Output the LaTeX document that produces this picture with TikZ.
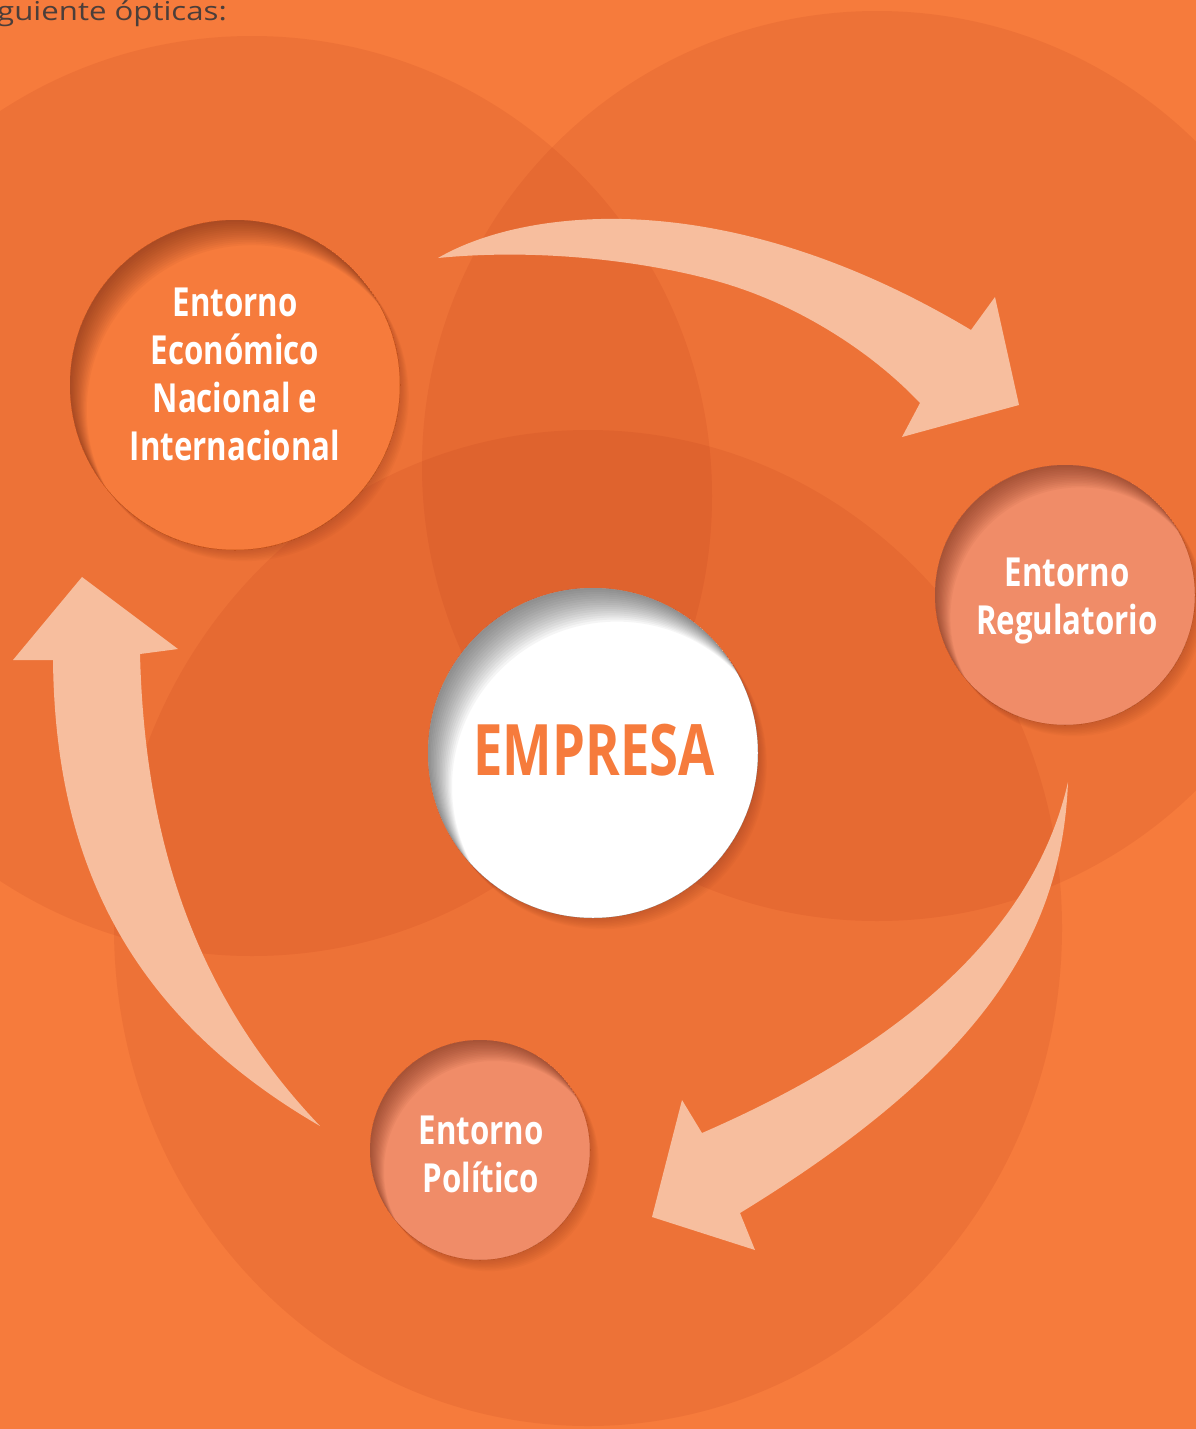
\documentclass[tikz,border=0pt]{standalone}
\usepackage{fontspec}
\setmainfont{Open Sans}
\newfontfamily\condfont{Open Sans}[FakeStretch=0.78]
\newfontfamily\empfont{Open Sans}[FakeStretch=0.74]
\newfontfamily\introfont{Open Sans}[FakeStretch=1.2]
\usetikzlibrary{calc}
\definecolor{bgorange}{RGB}{246,123,60}
\definecolor{bigshade}{RGB}{180,50,20}
\definecolor{arrowpeach}{RGB}{247,190,158}
\definecolor{softorange}{RGB}{240,140,104}
\definecolor{rimbrown}{RGB}{110,40,20}
\definecolor{rimgray}{RGB}{70,70,70}
\definecolor{topgray}{RGB}{75,62,58}
\newcommand\innershade[6]{%
  \begin{scope}
    \clip (#1) circle (#2);
    \foreach \k in {1,...,#6}{%
      \fill[#3, fill opacity=0.05, even odd rule] (#1) circle (#2) ($(#1)+(\k*#4,\k*#5)$) circle (#2);
    }
  \end{scope}}
\newcommand\outershade[3]{%
  \foreach \k in {1,...,8}{%
    \fill[#3, fill opacity=0.035] ($(#1)+(\k*1.1,\k*1.4)$) circle (#2);
  }}
\tikzset{
  bigdisc/.style={fill=bigshade, fill opacity=0.12},
  blockarrow/.style={fill=arrowpeach},
  envtext/.style={text=white, align=center, inner sep=0pt,
    font=\condfont\bfseries\fontsize{40}{48}\selectfont},
  holder/.style={circle, inner sep=0pt}
}
\begin{document}
\begin{tikzpicture}[x=1pt, y=-1pt]
\useasboundingbox (0,0) rectangle (1196,1429);
\clip (0,0) rectangle (1196,1429);
\fill[bgorange] (0,0) rectangle (1196,1429);

% big overlapping discs
\fill[bigdisc] (252,496) circle (460pt);
\fill[bigdisc] (877,466) circle (455pt);
\fill[bigdisc] (588,928) ellipse [x radius=474pt, y radius=498pt];

% intro text
\node[anchor=base west, inner sep=0pt, text=topgray, font=\introfont\fontsize{26}{30}\selectfont] (intro) at (-3,21) {guiente ópticas:};

% block arrows
\fill[blockarrow] (438,258) .. controls (520,210) and (720,180) .. (971,330)
  -- (995,297) -- (1019,405) -- (902,437) -- (920,403)
  .. controls (870,350) and (800,308) .. (736,287)
  .. controls (680,268) and (560,246) .. (438,258) -- cycle;
\fill[blockarrow] (1068,782) .. controls (1062,930) and (990,1060) .. (740,1213)
  -- (755,1250) -- (652,1217) -- (682,1100) -- (702,1133)
  .. controls (870,1060) and (1030,950) .. (1068,782) -- cycle;
\fill[blockarrow] (82,577) -- (178,649) -- (140,654)
  .. controls (145,850) and (200,1000) .. (320,1126)
  .. controls (120,1010) and (55,850) .. (53,660)
  -- (13,660) -- cycle;

% circle holders
\node[holder, minimum size=330pt] (econ) at (235,385) {};
\node[holder, minimum size=260pt] (regu) at (1065,595) {};
\node[holder, minimum size=220pt] (poli) at (480,1150) {};
\node[holder, minimum size=330pt] (emp) at (593,753) {};

% economic circle
\outershade{econ.center}{165pt}{rimbrown}
\fill[bgorange] (econ.center) circle (165pt);
\innershade{econ.center}{165pt}{rimbrown}{1.2}{1.8}{14}
% regulatory circle
\outershade{regu.center}{130pt}{rimbrown}
\fill[softorange] (regu.center) circle (130pt);
\innershade{regu.center}{130pt}{rimbrown}{1.1}{1.6}{14}
% political circle
\outershade{poli.center}{110pt}{rimbrown}
\fill[softorange] (poli.center) circle (110pt);
\innershade{poli.center}{110pt}{rimbrown}{1.0}{1.5}{14}
% empresa circle
\outershade{emp.center}{165pt}{rimbrown}
\fill[white] (emp.center) circle (165pt);
\innershade{emp.center}{165pt}{rimgray}{1.5}{2.1}{16}

% labels
\node[envtext] (econtxt) at (235,374) {Entorno\\Económico\\Nacional e\\Internacional};
\node[envtext] (regutxt) at (1067,601) {Entorno\\Regulatorio};
\node[envtext] (politxt) at (481,1154) {Entorno\\Político};
\node[inner sep=0pt, text=bgorange, font=\empfont\bfseries\fontsize{71}{80}\selectfont] (emptxt) at (594,750) {EMPRESA};
\end{tikzpicture}
\end{document}
